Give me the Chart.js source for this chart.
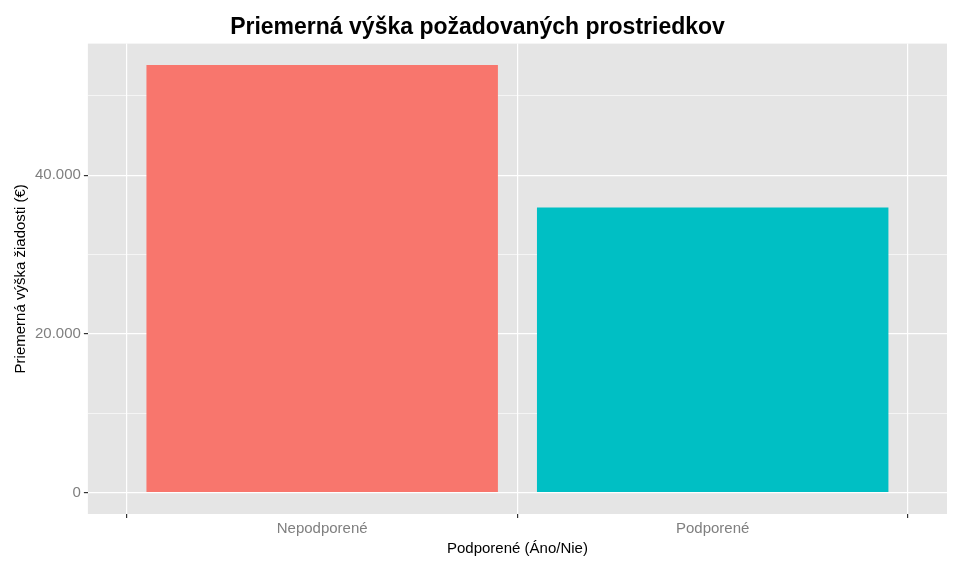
<!DOCTYPE html>
<html><head><meta charset="utf-8">
<script src="https://cdn.jsdelivr.net/npm/chart.js@4"></script>
<style>html,body{margin:0;padding:0;background:#fff}#w{width:969px;height:566px}</style>
</head><body><div id="w"><canvas id="c"></canvas></div>
<script>
const categories = ["Nepodporené", "Podporené"];
const values = [53900, 35950];
const colors = ["#F8766D", "#00BFC4"];
const majorTicks = [0, 20000, 40000];

const panelBg = {
  id: 'panelBg',
  beforeDraw(chart) {
    const {ctx, chartArea: a} = chart;
    ctx.save(); ctx.fillStyle = '#E5E5E5';
    ctx.fillRect(a.left, a.top, a.right - a.left, a.bottom - a.top);
    ctx.restore();
  }
};

new Chart(document.getElementById('c'), {
  type: 'bar',
  data: { datasets: [{ data: values.map((v, i) => ({x: i + 1, y: v})), backgroundColor: colors, categoryPercentage: 1, barPercentage: 0.9 }] },
  options: {
    responsive: true, maintainAspectRatio: false, animation: false,
    layout: { padding: { left: 8, right: 22, top: 6, bottom: 4 } },
    plugins: {
      legend: { display: false }, tooltip: { enabled: false },
      title: { display: true, text: 'Priemerná výška požadovaných prostriedkov', color: '#000',
        font: { family: 'Liberation Sans', size: 23, weight: 'bold' }, padding: { top: 8, bottom: 2 } }
    },
    scales: {
      x: {
        type: 'linear', min: 0.4, max: 2.6, offset: false,
        afterBuildTicks(s) { s.ticks = [{value: 1}, {value: 2}]; },
        grid: { color: '#FFFFFF', lineWidth: 1.2, tickColor: '#333', tickLength: 4 },
        border: { display: false },
        ticks: { color: '#7F7F7F', font: { family: 'Liberation Sans', size: 15 }, padding: 2,
          callback: v => categories[v - 1] || '' },
        title: { display: true, text: 'Podporené (Áno/Nie)', color: '#000', font: { family: 'Liberation Sans', size: 15 }, padding: { top: 0 } }
      },
      y: {
        min: -2695, max: 56595,
        afterBuildTicks(s) { s.ticks = [0,10000,20000,30000,40000,50000].map(v => ({value: v})); },
        grid: {
          color: '#FFFFFF',
          lineWidth: c => majorTicks.includes(c.tick && c.tick.value) ? 1.2 : 0.6,
          tickColor: c => majorTicks.includes(c.tick && c.tick.value) ? '#333' : 'rgba(0,0,0,0)',
          tickLength: 4
        },
        border: { display: false },
        ticks: { color: '#7F7F7F', font: { family: 'Liberation Sans', size: 15 }, padding: 3,
          callback: v => majorTicks.includes(v) ? (v === 0 ? '0' : v.toLocaleString('de-DE')) : '' },
        title: { display: true, text: 'Priemerná výška žiadosti (€)', color: '#000', font: { family: 'Liberation Sans', size: 15 }, padding: { bottom: 2 } }
      }
    }
  },
  plugins: [panelBg]
});
</script></body></html>
